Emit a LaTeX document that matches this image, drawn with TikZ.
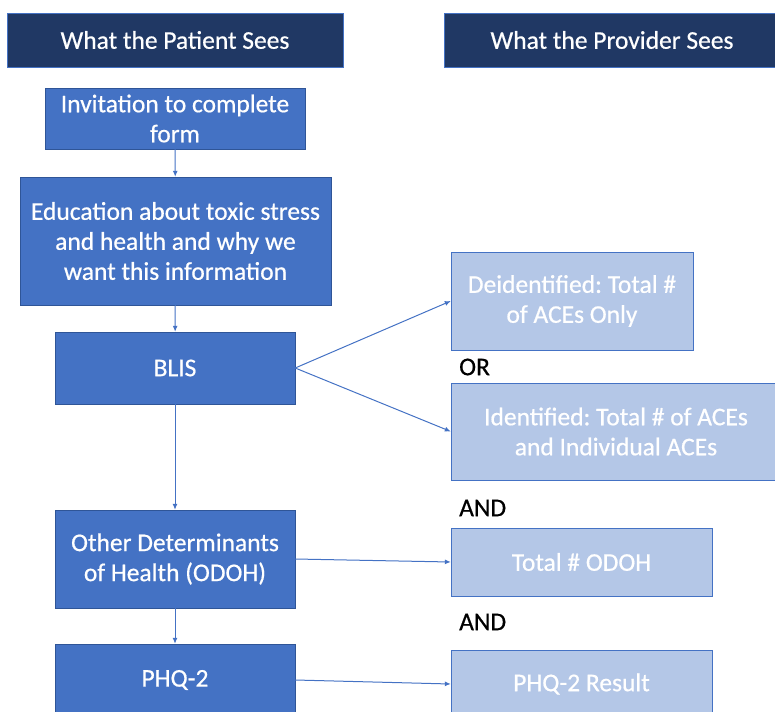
\documentclass[tikz,border=0pt]{standalone}
\usepackage{fontspec}
\setmainfont[FakeBold=0.6]{Carlito}
\frenchspacing
\usetikzlibrary{arrows.meta}

\definecolor{navy}{HTML}{203864}
\definecolor{midblue}{HTML}{4472C4}
\definecolor{edgeblue}{HTML}{2F5597}
\definecolor{paleblue}{HTML}{B4C7E7}

\begin{document}
\begin{tikzpicture}[x=1pt, y=-1pt, >={Latex[length=6pt,width=5pt]},
  header/.style={draw=midblue, fill=navy, text=white, minimum width=336pt, minimum height=54pt, font=\fontsize{25.5}{30}\selectfont},
  patient/.style={draw=edgeblue, fill=midblue, text=white, align=center, inner sep=0pt, font=\fontsize{25.5}{30}\selectfont},
  provider/.style={draw=midblue, fill=paleblue, text=white, align=center, inner sep=0pt, font=\fontsize{25.5}{30}\selectfont},
  joiner/.style={anchor=west, inner sep=2pt, font=\fontsize{25.5}{30}\selectfont},
  flow/.style={->, midblue, line width=1pt}]
  \useasboundingbox (0,0) rectangle (775,711);
  \clip (0,0) rectangle (775,711);

  % column titles
  \node[header] (phead) at (175,40) {What the Patient Sees};
  \node[header] (vhead) at (612,40) {What the Provider Sees};

  % patient side
  \node[patient, minimum width=260pt, minimum height=61pt] (invite) at (175,118.5) {Invitation to complete\\form};
  \node[patient, minimum width=311pt, minimum height=128pt] (educ) at (175.5,241) {Education about toxic stress\\and health and why we\\want this information};
  \node[patient, minimum width=240pt, minimum height=72pt] (blis) at (175,368) {BLIS};
  \node[patient, minimum width=240pt, minimum height=98pt] (odoh) at (175,559) {Other Determinants\\of Health (ODOH)};
  \node[patient, minimum width=240pt, minimum height=72pt] (phq) at (175,680) {PHQ-2};

  % provider side
  \node[provider, minimum width=242pt, minimum height=98pt] (deid) at (572,301) {Deidentified: Total \#\\of ACEs Only};
  \node[provider, minimum width=330pt, minimum height=97pt] (ident) at (616,431.5) {Identified: Total \# of ACEs\\and Individual ACEs};
  \node[provider, minimum width=261pt, minimum height=68pt] (todoh) at (581.5,562) {Total \# ODOH};
  \node[provider, minimum width=261pt, minimum height=68pt] (result) at (581.5,684) {PHQ-2 Result};

  \node[joiner] (orlbl) at (457,367) {OR};
  \node[joiner] (and1) at (457,508) {AND};
  \node[joiner] (and2) at (457,622) {AND};

  % connectors
  \draw[flow] (invite) -- (educ);
  \draw[flow] (educ) -- (blis);
  \draw[flow] (blis) -- (odoh);
  \draw[flow] (odoh) -- (phq);
  \draw[flow] (blis.east) -- (deid.west);
  \draw[flow] (blis.east) -- (ident.west);
  \draw[flow] (odoh.east) -- (todoh.west);
  \draw[flow] (phq.east) -- (result.west);
\end{tikzpicture}
\end{document}
